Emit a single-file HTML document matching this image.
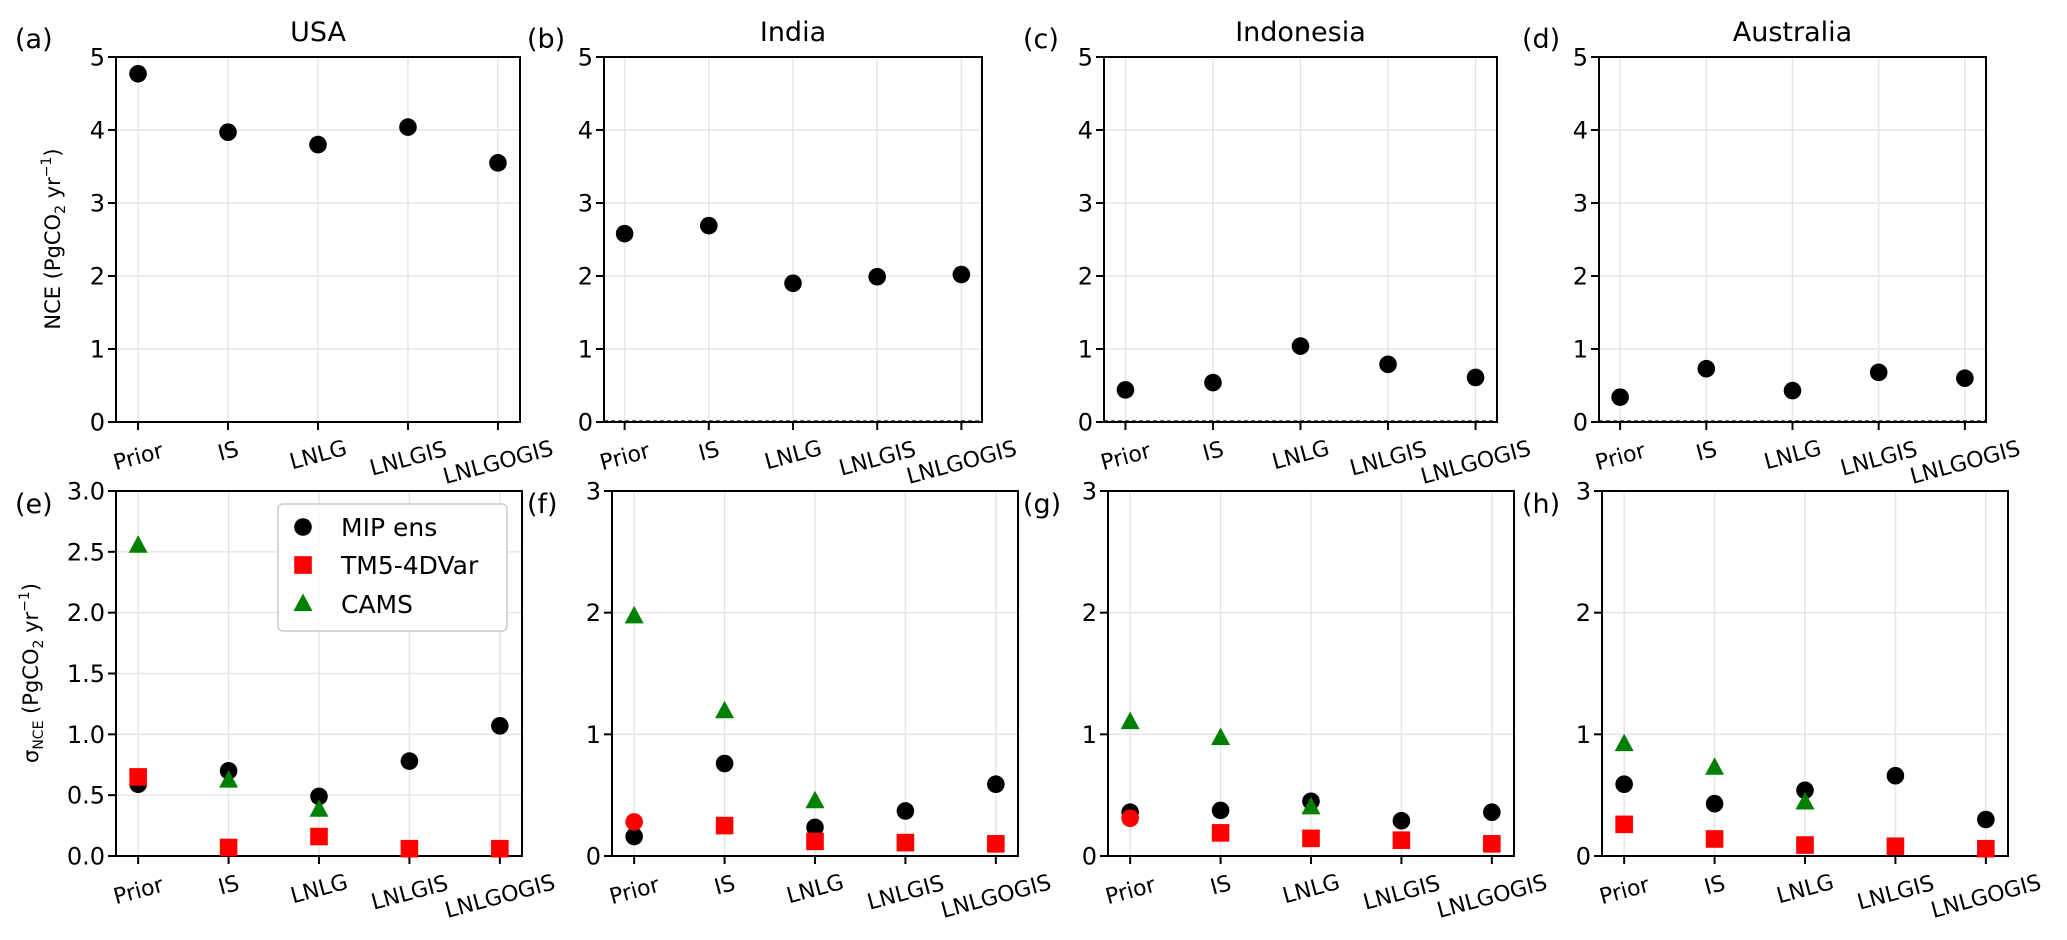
<!DOCTYPE html>
<html><head><meta charset="utf-8">
<style>
html,body{margin:0;padding:0;background:#fff;}
svg{display:block;font-family:"DejaVu Sans","Liberation Sans",sans-serif;}
</style></head>
<body>
<svg id="fig" width="2067" height="940" viewBox="0 0 2067 940" xmlns="http://www.w3.org/2000/svg"></svg>
<script>
// ---- data ----
const categories = ["Prior","IS","LNLG","LNLGIS","LNLGOGIS"];
const regions = ["USA","India","Indonesia","Australia"];
const topLetters = ["(a)","(b)","(c)","(d)"];
const botLetters = ["(e)","(f)","(g)","(h)"];
const nceUSA = [4.77,3.97,3.80,4.04,3.55];
const nceIndia = [2.58,2.69,1.90,1.99,2.02];
const nceIndonesia = [0.44,0.54,1.04,0.79,0.61];
const nceAustralia = [0.34,0.73,0.43,0.68,0.60];
const sigMipUSA = [0.59,0.70,0.49,0.78,1.07];
const sigTm5USA = [0.65,0.07,0.16,0.06,0.06];
const sigCamsUSA = [2.55,0.62,0.38,null,null];
const sigMipIndia = [0.16,0.76,0.235,0.37,0.59];
const sigTm5India = [0.28,0.25,0.12,0.11,0.10];
const sigCamsIndia = [1.97,1.19,0.45,null,null];
const sigMipIndonesia = [0.36,0.375,0.45,0.29,0.36];
const sigTm5Indonesia = [0.31,0.19,0.145,0.13,0.10];
const sigCamsIndonesia = [1.10,0.97,0.40,null,null];
const sigMipAustralia = [0.59,0.43,0.54,0.66,0.30];
const sigTm5Australia = [0.26,0.14,0.09,0.08,0.06];
const sigCamsAustralia = [0.92,0.725,0.44,null,null];
const topTicks = [0,1,2,3,4,5];
const botTicksE = [0,0.5,1,1.5,2,2.5,3];
const botTicksLabelsE = ["0.0","0.5","1.0","1.5","2.0","2.5","3.0"];
const botTicks = [0,1,2,3];
// Prior TM5 marker shape per region (circle in India/Indonesia)
const tm5PriorShape = ["square","circle","circle","square"];

const nceAll = [nceUSA,nceIndia,nceIndonesia,nceAustralia];
const mipAll = [sigMipUSA,sigMipIndia,sigMipIndonesia,sigMipAustralia];
const tm5All = [sigTm5USA,sigTm5India,sigTm5Indonesia,sigTm5Australia];
const camsAll = [sigCamsUSA,sigCamsIndia,sigCamsIndonesia,sigCamsAustralia];

// ---- layout ----
const topBoxes = [[116,520],[604,982],[1104,1497],[1599,1986]];
const botBoxes = [[116,522],[612,1018],[1108,1514],[1602,2008]];
const letterX = [15,527,1023,1522];
const topY = [57,422], botY = [491,856];
const NS = "http://www.w3.org/2000/svg";
const svg = document.getElementById('fig');
function mk(tag, attrs, parent){
  const e = document.createElementNS(NS, tag);
  for (const k in attrs) e.setAttribute(k, attrs[k]);
  (parent||svg).appendChild(e);
  return e;
}

function drawPanel(k, box, yr, ymax, ticks, tickLabels, region, letter, letterY, title, dashed){
  const g = mk('g', {});
  
  
  const x0 = box[0], x1 = box[1], yT = yr[0], yB = yr[1];
  const step = (x1 - x0) / (4 + 2*0.245);
  const xs = i => x0 + step*0.245 + i*step;
  const ys = v => yB - (v/ymax)*(yB - yT);
  ticks.forEach(t => {
    const l = mk('line', {x1:x0, x2:x1, y1:ys(t), y2:ys(t), stroke:'#e6e6e6', 'stroke-width':1.5}, g);
    
    
  });
  categories.forEach((c,i) => {
    const l = mk('line', {x1:xs(i), x2:xs(i), y1:yT, y2:yB, stroke:'#e6e6e6', 'stroke-width':1.5}, g);
    
    
  });
  if (dashed){
    const d = mk('line', {x1:x0, x2:x1, y1:ys(0)-1, y2:ys(0)-1, stroke:'#000', 'stroke-width':1.2, 'stroke-dasharray':'4,3'}, g);
    
    
  }
  ticks.forEach((t,j) => {
    mk('line', {x1:x0-8, x2:x0, y1:ys(t), y2:ys(t), stroke:'#000', 'stroke-width':2}, g);
    const tx = mk('text', {x:x0-11, y:ys(t)+8.5, 'font-size':24, 'text-anchor':'end', fill:'#000'}, g);
    tx.textContent = tickLabels[j];
    
    
  });
  categories.forEach((c,i) => {
    mk('line', {x1:xs(i), x2:xs(i), y1:yB, y2:yB+8, stroke:'#000', 'stroke-width':2}, g);
    const len = c.length*14.5;
    const h = 22;
    const a = 15*Math.PI/180;
    const half = (len*Math.sin(a) + h*Math.cos(a))/2;
    const cy = yB + 14 + half;
    const tx = mk('text', {x:0, y:0, 'font-size':22, 'text-anchor':'middle', fill:'#000',
      transform:`translate(${xs(i)},${cy}) rotate(-15) translate(0,8)`}, g);
    tx.textContent = c;
    
    
  });
  const fr = mk('rect', {x:x0, y:yT, width:x1-x0, height:yB-yT, fill:'none', stroke:'#000', 'stroke-width':2}, g);
  
  
  if (title){
    const t = mk('text', {x:(x0+x1)/2, y:41, 'font-size':27, 'text-anchor':'middle', fill:'#000'}, g);
    t.textContent = title;
    
    
  }
  const lt = mk('text', {x:letterX[k], y:letterY, 'font-size':27, 'text-anchor':'start', fill:'#000'}, g);
  lt.textContent = letter;
  
  
  return {g, xs, ys};
}
function circle(g, x, y, color, name){
  const c = mk('circle', {cx:x, cy:y, r:8.8, fill:color}, g);
  
  
}
function square(g, x, y, color, name){
  const s = mk('rect', {x:x-8.8, y:y-8.8, width:17.6, height:17.6, fill:color}, g);
  
  
}
function tri(g, x, y, color, name){
  const p = mk('polygon', {points:`${x},${y-10.5} ${x+9.5},${y+7} ${x-9.5},${y+7}`, fill:color}, g);
  
  
}

regions.forEach((r, k) => {
  const p = drawPanel(k, topBoxes[k], topY, 5, topTicks, topTicks.map(String), r, topLetters[k], 48, r, k>0);
  nceAll[k].forEach((v,i) => circle(p.g, p.xs(i), p.ys(v), '#000', 'nce-point'));
});
regions.forEach((r, k) => {
  const tk = k===0 ? botTicksE : botTicks;
  const tl = k===0 ? botTicksLabelsE : botTicks.map(String);
  const p = drawPanel(k, botBoxes[k], botY, 3, tk, tl, r, botLetters[k], 513, null, false);
  mipAll[k].forEach((v,i) => { if (v!==null) circle(p.g, p.xs(i), p.ys(v), '#000', 'mip-ens-point'); });
  tm5All[k].forEach((v,i) => {
    if (v===null) return;
    if (i===0 && tm5PriorShape[k]==='circle') circle(p.g, p.xs(i), p.ys(v), '#ff0000', 'tm5-point');
    else square(p.g, p.xs(i), p.ys(v), '#ff0000', 'tm5-point');
  });
  camsAll[k].forEach((v,i) => { if (v!==null) tri(p.g, p.xs(i), p.ys(v), '#008000', 'cams-point'); });
});

const yl1 = mk('text', {x:0, y:0, 'font-size':21, 'text-anchor':'middle', fill:'#000', transform:'translate(60,239) rotate(-90)'});


yl1.innerHTML = 'NCE (PgCO<tspan font-size="14" dy="5">2</tspan><tspan dy="-5"> yr</tspan><tspan font-size="14" dy="-9">−1</tspan><tspan dy="9">)</tspan>';
const yl2 = mk('text', {x:0, y:0, 'font-size':21, 'text-anchor':'middle', fill:'#000', transform:'translate(38,673) rotate(-90)'});


yl2.innerHTML = 'σ<tspan font-size="14" dy="5">NCE</tspan><tspan dy="-5"> (PgCO</tspan><tspan font-size="14" dy="5">2</tspan><tspan dy="-5"> yr</tspan><tspan font-size="14" dy="-9">−1</tspan><tspan dy="9">)</tspan>';

const lg = mk('g', {});


mk('rect', {x:278, y:504, width:229, height:127, rx:5, fill:'#fff', 'fill-opacity':0.85, stroke:'#cccccc', 'stroke-width':1.5}, lg);
const legNames = ["MIP ens","TM5-4DVar","CAMS"];
const legY = [527,565,604];
circle(lg, 303, legY[0], '#000', 'legend-marker-mip');
square(lg, 303, legY[1], '#ff0000', 'legend-marker-tm5');
tri(lg, 303, legY[2], '#008000', 'legend-marker-cams');
legNames.forEach((n,i) => {
  const t = mk('text', {x:341, y:legY[i]+9, 'font-size':25, fill:'#000'}, lg);
  t.textContent = n;
  
  
});
</script>
</body></html>
